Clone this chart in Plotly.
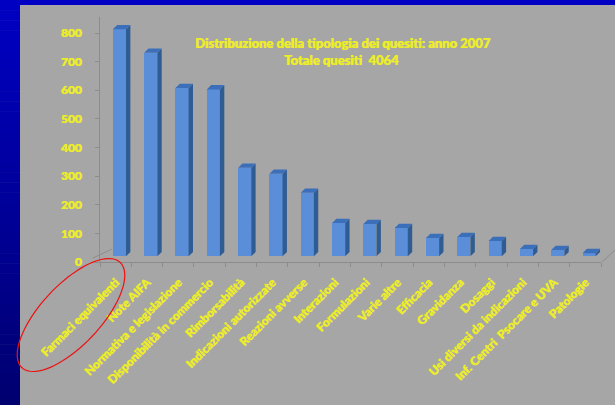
import plotly.graph_objects as go
import numpy as np

categories = ["Farmaci equivalenti", "Note AIFA", "Normativa e legislazione",
              "Disponibilità in commercio", "Rimborsabilità", "Indicazioni autorizzate",
              "Reazioni avverse", "Interazioni", "Formulazioni", "Varie altre", "Efficacia",
              "Gravidanza", "Dosaggi", "Usi diversi da indicazioni",
              "Inf. Centri  Psocare e UVA", "Patologie"]
values = [793, 711, 588, 583, 309, 288, 222, 116, 113, 99, 64, 67, 53, 25, 22, 11]
title_line1 = "Distribuzione della tipologia dei quesiti: anno 2007"
title_line2 = "Totale quesiti  4064"
y_ticks = [0, 100, 200, 300, 400, 500, 600, 700, 800]

W, H = 615, 405
L, R, T, B = 100, 14, 17, 143
PW, PH = W - L - R, H - T - B
XR = [-0.5, 15.5]
YR = [0, 856]

YEL = "#ecec2c"
GRAY = "#a6a6a6"
FRONT = "#5a8ed8"
SIDE = "#2f5c92"
TOP = "#3c6fba"
SHADOW = "0.6px 0px 0px %s" % YEL

# 3D look (style constants)
OFF = 0.12      # front-face shift
BW = 0.42       # front-face width
DX = 0.14       # depth in x units
DY = 15         # depth in y units
BASE = 20       # perspective base lift

xs = np.arange(len(categories))

fig = go.Figure()
fig.add_trace(go.Bar(x=xs + OFF, y=values, base=BASE, width=BW,
                     marker=dict(color=FRONT, line=dict(width=0)),
                     hoverinfo="skip", showlegend=False))

sx, sy, tx, ty = [], [], [], []
for x, v in zip(xs, values):
    xl = x + OFF - BW / 2
    xr = x + OFF + BW / 2
    sx += [xr, xr + DX, xr + DX, xr, xr, None]
    sy += [BASE, BASE + DY, BASE + v + DY, BASE + v, BASE, None]
    tx += [xl, xr, xr + DX, xl + DX, xl, None]
    ty += [BASE + v, BASE + v, BASE + v + DY, BASE + v + DY, BASE + v, None]

fig.add_trace(go.Scatter(x=sx, y=sy, mode="lines", fill="toself", fillcolor=SIDE,
                         line=dict(width=0, color=SIDE), hoverinfo="skip", showlegend=False))
fig.add_trace(go.Scatter(x=tx, y=ty, mode="lines", fill="toself", fillcolor=TOP,
                         line=dict(width=0, color=TOP), hoverinfo="skip", showlegend=False))


def px2paper(px, py):
    return (px - L) / PW, (H - B - py) / PH


shapes = []
# blue top band and left gradient strip
x0, _ = px2paper(0, 0)
x1, _ = px2paper(20, 0)
xe, _ = px2paper(W, 0)
_, yt = px2paper(0, 0)
_, yb5 = px2paper(0, 5)
shapes.append(dict(type="rect", xref="paper", yref="paper", x0=x0, x1=xe, y0=yb5, y1=yt,
                   fillcolor="#0000c4", line=dict(width=0), layer="below"))
n = 40
c_top = np.array([0, 0, 196])
c_bot = np.array([0, 0, 112])
for i in range(n):
    pa = i * H / n
    pb = (i + 1) * H / n + 0.5
    c = c_top + (c_bot - c_top) * (i + 0.5) / n
    _, ya = px2paper(0, pa)
    _, yb = px2paper(0, pb)
    shapes.append(dict(type="rect", xref="paper", yref="paper", x0=x0, x1=x1, y0=yb, y1=ya,
                       fillcolor="rgb(%d,%d,%d)" % tuple(c), line=dict(width=0), layer="below"))

# floor perspective lines
fx0, fy0 = px2paper(93, 258)
fx1, fy1 = px2paper(112, 249)
shapes.append(dict(type="line", xref="paper", yref="paper", x0=fx0, y0=fy0, x1=fx1, y1=fy1,
                   line=dict(color="#8c8c8c", width=1)))
gx0, gy0 = px2paper(602, 262)
gx1, gy1 = px2paper(615, 250)
shapes.append(dict(type="line", xref="paper", yref="paper", x0=gx0, y0=gy0, x1=gx1, y1=gy1,
                   line=dict(color="#8c8c8c", width=1)))

# red ellipse highlight
t = np.linspace(0, 2 * np.pi, 80)
a, b_ = 72, 30
cx, cy = 71, 315
ang = np.deg2rad(-47)
ex = cx + a * np.cos(t) * np.cos(ang) - b_ * np.sin(t) * np.sin(ang)
ey = cy + a * np.cos(t) * np.sin(ang) + b_ * np.sin(t) * np.cos(ang)
pts = [px2paper(px, py) for px, py in zip(ex, ey)]
path = "M " + " L ".join("%.5f,%.5f" % p for p in pts) + " Z"
shapes.append(dict(type="path", xref="paper", yref="paper", path=path,
                   line=dict(color="#ee1111", width=1.2)))

ann = []
ax1, ay1 = px2paper(343, 43)
ax2, ay2 = px2paper(341, 60)
for (ax_, ay_), txt in [((ax1, ay1), title_line1), ((ax2, ay2), title_line2)]:
    ann.append(dict(xref="paper", yref="paper", x=ax_, y=ay_, text=txt, showarrow=False,
                    xanchor="center", yanchor="middle",
                    font=dict(family="Lato", size=13, color=YEL, weight=900, shadow=SHADOW)))

tickfont = dict(family="Lato", size=12, color=YEL, weight=900, shadow=SHADOW)

fig.update_layout(
    width=W, height=H, margin=dict(l=L, r=R, t=T, b=B, autoexpand=False),
    paper_bgcolor=GRAY, plot_bgcolor=GRAY,
    shapes=shapes, annotations=ann, bargap=0,
    xaxis=dict(range=XR, tickvals=list(xs), ticktext=categories, tickangle=-45,
               ticks="", showline=True, linecolor="#8c8c8c", linewidth=1, automargin=False,
               showgrid=False, zeroline=False, ticklabelstandoff=8,
               minor=dict(ticks="outside", tick0=-0.5, dtick=1, ticklen=4, tickcolor="#8c8c8c"),
               tickfont=tickfont),
    yaxis=dict(range=YR, tickvals=y_ticks, ticks="outside", ticklen=4, tickcolor="#8c8c8c",
               showline=True, linecolor="#8c8c8c", linewidth=1, showgrid=False, zeroline=False,
               automargin=False, ticklabelstandoff=11, tickfont=tickfont),
)

fig.write_html("out.html")
